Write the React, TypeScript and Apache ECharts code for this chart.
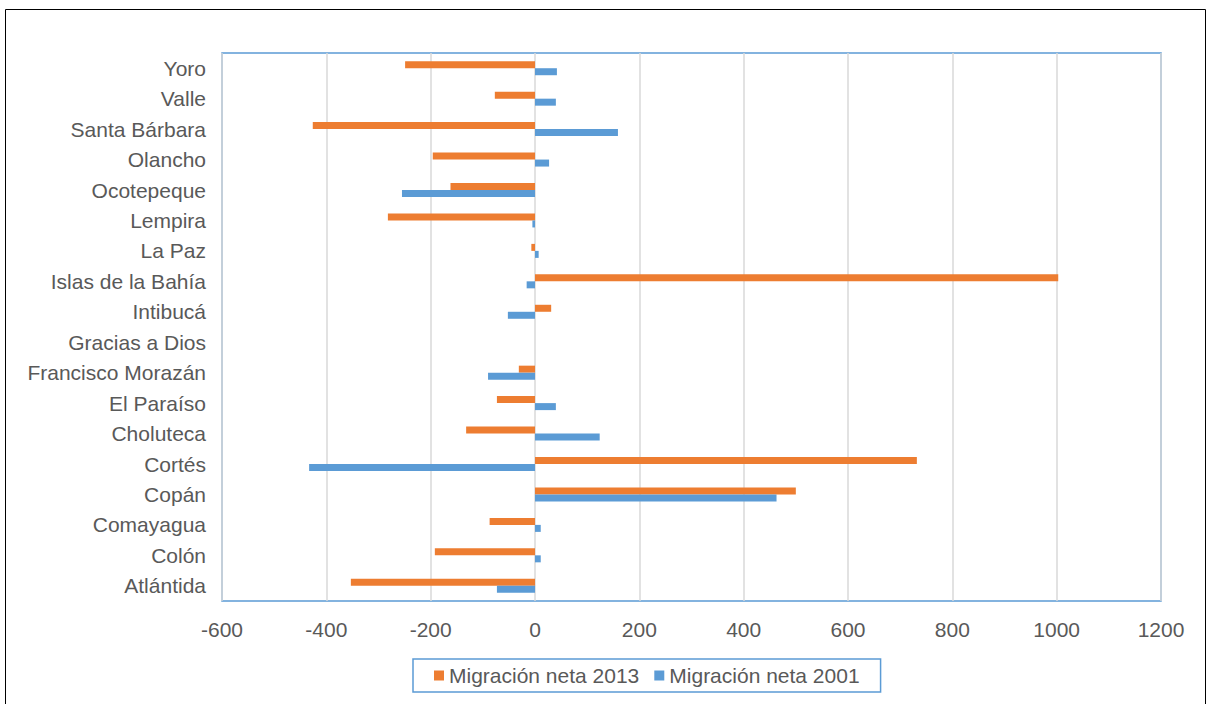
import React, { useEffect, useRef } from "react";
import * as echarts from "echarts";

const categories = [
  "Atlántida",
  "Colón",
  "Comayagua",
  "Copán",
  "Cortés",
  "Choluteca",
  "El Paraíso",
  "Francisco Morazán",
  "Gracias a Dios",
  "Intibucá",
  "Islas de la Bahía",
  "La Paz",
  "Lempira",
  "Ocotepeque",
  "Olancho",
  "Santa Bárbara",
  "Valle",
  "Yoro",
];

const migracion2013 = [-353, -192, -87, 500, 732, -132, -73, -31, 0, 31, 1003, -7, -282, -162, -196, -426, -77, -249];
const migracion2001 = [-73, 11, 11, 463, -433, 124, 40, -90, 0, -52, -16, 7, -5, -255, 27, 159, 40, 42];

const seriesNames = ["Migración neta 2013", "Migración neta 2001"];

export default function App() {
  const ref = useRef<HTMLDivElement>(null);
  useEffect(() => {
    document.body.style.margin = "0";
    const chart = echarts.init(ref.current!, null, { renderer: "svg" });
    const font = "'Liberation Sans', Arial, sans-serif";
    chart.setOption({
      animation: false,
      backgroundColor: "#ffffff",
      textStyle: { fontFamily: font },
      graphic: [
        {
          type: "rect",
          shape: { x: 5.5, y: 9.5, width: 1200, height: 700 },
          style: { fill: "none", stroke: "#000000", lineWidth: 1 },
          silent: true,
        },
      ],
      grid: {
        left: 222,
        right: 46,
        top: 53,
        bottom: 103,
        show: true,
        borderColor: "#5B9BD5",
        borderWidth: 1.5,
        containLabel: false,
      },
      legend: {
        data: seriesNames,
        left: 413,
        top: 659,
        padding: [6, 21, 6, 21],
        itemWidth: 10,
        itemHeight: 10,
        itemGap: 15,
        icon: "rect",
        borderColor: "#5B9BD5",
        borderWidth: 1.5,
        textStyle: { fontSize: 21, color: "#595959", fontFamily: font },
      },
      xAxis: {
        type: "value",
        min: -600,
        max: 1200,
        interval: 200,
        axisLine: { show: false },
        axisTick: { show: false },
        axisLabel: {
          fontSize: 21,
          color: "#595959",
          margin: 18,
          fontFamily: font,
          formatter: (v: number) => String(v),
        },
        splitLine: { show: true, lineStyle: { color: "#D9D9D9", width: 1.5 } },
      },
      yAxis: {
        type: "category",
        data: categories,
        axisLine: { show: false },
        axisTick: { show: false },
        axisLabel: { fontSize: 21, color: "#595959", margin: 16, fontFamily: font },
        splitLine: { show: false },
      },
      series: [
        {
          name: seriesNames[0],
          type: "bar",
          data: migracion2013,
          itemStyle: { color: "#ED7D31" },
          barGap: "0%",
          barCategoryGap: "54%",
        },
        {
          name: seriesNames[1],
          type: "bar",
          data: migracion2001,
          itemStyle: { color: "#5B9BD5" },
          barGap: "0%",
          barCategoryGap: "54%",
        },
      ],
    });
    return () => chart.dispose();
  }, []);
  return <div ref={ref} style={{ width: 1207, height: 704 }} />;
}
